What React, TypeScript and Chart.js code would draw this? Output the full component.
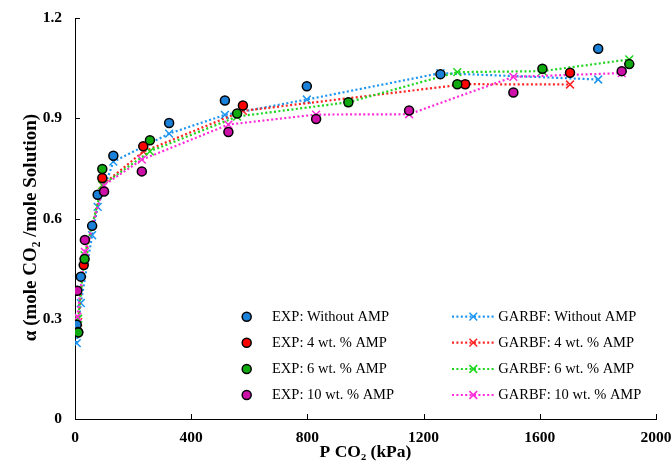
import React, { useEffect, useRef } from 'react';
import { Chart, registerables } from 'chart.js';

Chart.register(...registerables);

// CO2 loading in aqueous solutions: experimental points and GARBF model
const pressureWithout = [6, 20, 59, 78, 132, 324, 516, 798, 1258, 1801];
const expWithout = [0.282, 0.426, 0.578, 0.671, 0.788, 0.886, 0.953, 0.996, 1.032, 1.108];
const garbfWithout = [0.227, 0.347, 0.55, 0.635, 0.77, 0.854, 0.91, 0.956, 1.035, 1.016];

const pressure4 = [11, 30, 94, 235, 578, 1343, 1704];
const exp4 = [0.26, 0.461, 0.721, 0.816, 0.938, 1.002, 1.036];
const garbf4 = [0.29, 0.47, 0.7, 0.8, 0.922, 1.002, 1.001];

const pressure6 = [11, 33, 94, 258, 558, 941, 1316, 1609, 1908];
const exp6 = [0.259, 0.479, 0.748, 0.834, 0.914, 0.948, 1.002, 1.048, 1.062];
const garbf6 = [0.3, 0.49, 0.7, 0.801, 0.905, 0.948, 1.038, 1.041, 1.076];

const pressure10 = [8, 34, 100, 230, 528, 830, 1150, 1509, 1882];
const exp10 = [0.384, 0.536, 0.681, 0.741, 0.859, 0.898, 0.923, 0.977, 1.041];
const garbf10 = [0.306, 0.5, 0.7, 0.776, 0.881, 0.911, 0.912, 1.024, 1.035];

const seriesNames = ['Without AMP', '4 wt. % AMP', '6 wt. % AMP', '10 wt. % AMP'];
const xTicks = [0, 400, 800, 1200, 1600, 2000];
const yTicks = [0, 0.3, 0.6, 0.9, 1.2];
const yTitle = '\u03b1 (mole CO\u2082 /mole Solution)';
const xTitle = 'P CO\u2082 (kPa)';

const expFill = ['#1a80d8', '#ff0000', '#10aa10', '#cc10a8'];
const lineColor = ['#1e95f0', '#ff2424', '#1ed61e', '#ff2ad8'];

const SERIF = '"Liberation Serif", "Times New Roman", serif';

const pts = (xs: number[], ys: number[]) => xs.map((x, i) => ({ x, y: ys[i] }));

const pressures = [pressureWithout, pressure4, pressure6, pressure10];
const expValues = [expWithout, exp4, exp6, exp10];
const garbfValues = [garbfWithout, garbf4, garbf6, garbf10];

const DOT_DASH = [2, 2.4];
const CROSS_R = 5.5;

function drawCross(ctx: CanvasRenderingContext2D, x: number, y: number, r: number) {
  const d = r * Math.SQRT1_2;
  ctx.beginPath();
  ctx.moveTo(x - d, y - d);
  ctx.lineTo(x + d, y + d);
  ctx.moveTo(x - d, y + d);
  ctx.lineTo(x + d, y - d);
  ctx.stroke();
}

// Inward tick marks on both axes
const innerTicks = {
  id: 'innerTicks',
  beforeDatasetsDraw(chart: any) {
    const { ctx, chartArea, scales } = chart;
    ctx.save();
    ctx.strokeStyle = '#000';
    ctx.lineWidth = 1;
    xTicks.forEach((v) => {
      if (v === 0) return;
      const px = Math.round(scales.x.getPixelForValue(v)) + 0.5;
      ctx.beginPath();
      ctx.moveTo(px, chartArea.bottom);
      ctx.lineTo(px, chartArea.bottom - 5);
      ctx.stroke();
    });
    yTicks.forEach((v) => {
      if (v === 0) return;
      const py = Math.round(scales.y.getPixelForValue(v)) + 0.5;
      ctx.beginPath();
      ctx.moveTo(chartArea.left, py);
      ctx.lineTo(chartArea.left + 5, py);
      ctx.stroke();
    });
    ctx.restore();
  },
};

// Rotated y-axis title, set slightly below the middle of the axis
const yAxisTitle = {
  id: 'yAxisTitle',
  afterDraw(chart: any) {
    const { ctx, chartArea } = chart;
    const cy = (chartArea.top + chartArea.bottom) / 2 + 9;
    ctx.save();
    ctx.translate(31, cy);
    ctx.rotate(-Math.PI / 2);
    ctx.font = `bold 19px ${SERIF}`;
    ctx.fillStyle = '#000';
    ctx.textAlign = 'center';
    ctx.textBaseline = 'middle';
    ctx.fillText(yTitle, 0, 0);
    ctx.restore();
  },
};

// Two-column legend inside the plot area
const twoColumnLegend = {
  id: 'twoColumnLegend',
  afterDraw(chart: any) {
    const { ctx } = chart;
    const rows = [316.7, 342.7, 369, 395];
    ctx.save();
    ctx.font = `14.5px ${SERIF}`;
    ctx.textBaseline = 'middle';
    ctx.textAlign = 'left';
    chart.data.datasets.forEach((ds: any, i: number) => {
      const row = i % 4;
      const y = rows[row];
      if (i < 4) {
        ctx.beginPath();
        ctx.arc(246.7, y, ds.pointRadius, 0, Math.PI * 2);
        ctx.fillStyle = ds.pointBackgroundColor;
        ctx.fill();
        ctx.lineWidth = ds.pointBorderWidth;
        ctx.strokeStyle = ds.pointBorderColor;
        ctx.stroke();
        ctx.fillStyle = '#000';
        ctx.fillText(ds.label, 272, y + 0.5);
      } else {
        ctx.strokeStyle = ds.borderColor;
        ctx.lineWidth = ds.borderWidth;
        ctx.setLineDash(DOT_DASH);
        ctx.beginPath();
        ctx.moveTo(452, y);
        ctx.lineTo(494, y);
        ctx.stroke();
        ctx.setLineDash([]);
        ctx.lineWidth = ds.pointBorderWidth;
        drawCross(ctx, 473.3, y, CROSS_R);
        ctx.fillStyle = '#000';
        ctx.fillText(ds.label, 498.3, y + 0.5);
      }
    });
    ctx.restore();
  },
};

export default function App() {
  const ref = useRef<HTMLCanvasElement>(null);

  useEffect(() => {
    document.body.style.margin = '0';
    const canvas = ref.current;
    if (!canvas) return;

    const expSets = seriesNames.map((name, i) => ({
      type: 'scatter' as const,
      label: `EXP: ${name}`,
      data: pts(pressures[i], expValues[i]),
      showLine: false,
      pointStyle: 'circle',
      pointRadius: 4.5,
      pointHoverRadius: 4.5,
      pointBackgroundColor: expFill[i],
      pointBorderColor: '#000',
      pointBorderWidth: 1.5,
      order: 3 - i,
    }));

    const modelSets = seriesNames.map((name, i) => ({
      type: 'scatter' as const,
      label: `GARBF: ${name}`,
      data: pts(pressures[i], garbfValues[i]),
      showLine: true,
      fill: false,
      tension: 0,
      borderColor: lineColor[i],
      borderWidth: 2.2,
      borderDash: DOT_DASH,
      pointStyle: 'crossRot',
      pointRadius: CROSS_R,
      pointHoverRadius: CROSS_R,
      pointBackgroundColor: lineColor[i],
      pointBorderColor: lineColor[i],
      pointBorderWidth: 1.5,
      order: 10 + (3 - i),
    }));

    const chart = new Chart(canvas, {
      type: 'scatter',
      data: { datasets: [...expSets, ...modelSets] as any },
      plugins: [innerTicks, yAxisTitle, twoColumnLegend],
      options: {
        animation: false,
        responsive: false,
        maintainAspectRatio: false,
        color: '#000',
        layout: { padding: { left: 0, right: 15, top: 18, bottom: 0 } },
        plugins: {
          legend: { display: false },
          tooltip: { enabled: false },
        },
        scales: {
          x: {
            type: 'linear',
            min: 0,
            max: 2000,
            grid: { display: false, drawTicks: false },
            border: { display: true, color: '#000', width: 1 },
            afterBuildTicks: (scale: any) => {
              scale.ticks = xTicks.map((value) => ({ value }));
            },
            afterFit: (scale: any) => {
              scale.height = 43;
              scale.paddingLeft = 0;
              scale.paddingRight = 0;
            },
            ticks: {
              color: '#000',
              padding: 10,
              maxRotation: 0,
              autoSkip: false,
              font: { family: SERIF, size: 15.5, weight: 'bold' },
              callback: (v: any) => String(v),
            },
            title: {
              display: true,
              text: xTitle,
              color: '#000',
              padding: { top: 0, bottom: -1 },
              font: { family: SERIF, size: 17.5, weight: 'bold' },
            },
          },
          y: {
            type: 'linear',
            min: 0,
            max: 1.2,
            grid: { display: false, drawTicks: false },
            border: { display: true, color: '#000', width: 1 },
            afterBuildTicks: (scale: any) => {
              scale.ticks = yTicks.map((value) => ({ value }));
            },
            afterFit: (scale: any) => {
              scale.width = 75;
              scale.paddingTop = 0;
              scale.paddingBottom = 0;
            },
            ticks: {
              color: '#000',
              padding: 13,
              autoSkip: false,
              font: { family: SERIF, size: 15.5, weight: 'bold' },
              callback: (v: any) => String(Math.round(v * 10) / 10),
            },
            title: { display: false },
          },
        },
      } as any,
    });

    return () => chart.destroy();
  }, []);

  return (
    <div style={{ width: 671, height: 462 }}>
      <canvas ref={ref} width={671} height={462} style={{ display: 'block', width: 671, height: 462 }} />
    </div>
  );
}
